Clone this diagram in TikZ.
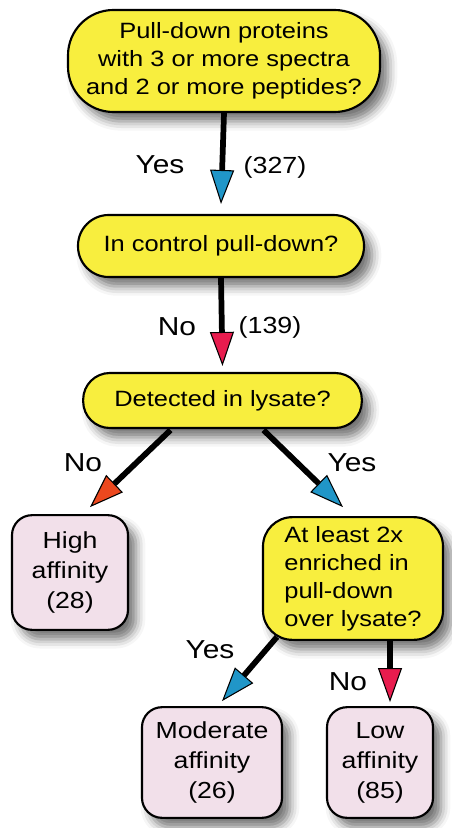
\documentclass[tikz,border=0pt]{standalone}
\usepackage{fontspec}
\setmainfont{Liberation Sans}[FakeStretch=1.15]
\usetikzlibrary{arrows.meta,calc,shadows.blur}
\definecolor{qyellow}{RGB}{248,238,62}
\definecolor{rpink}{RGB}{242,224,234}
\definecolor{tipblue}{RGB}{32,150,200}
\definecolor{tipred}{RGB}{232,28,78}
\definecolor{tiporange}{RGB}{236,72,30}
\tikzset{
  base/.style={draw=black, line width=1.6pt, inner sep=0pt, align=center,
    blur shadow={shadow xshift=6pt, shadow yshift=-7pt, shadow blur radius=7pt, shadow opacity=55}},
  question/.style={base, fill=qyellow, font=\fontsize{16.6}{21}\selectfont},
  result/.style={base, fill=rpink, font=\fontsize{17.4}{22.5}\selectfont, rounded corners=15pt},
  conn/.style={line width=4.3pt, draw=black},
  bluetip/.style={conn, -{Triangle[width=18pt,length=25.5pt,fill=tipblue,line width=0.8pt]}},
  redtip/.style={conn, -{Triangle[width=18pt,length=25.5pt,fill=tipred,line width=0.8pt]}},
  orangetip/.style={conn, -{Triangle[width=18pt,length=25.5pt,fill=tiporange,line width=0.8pt]}},
  answer/.style={font=\fontsize{19.5}{22}\selectfont, inner sep=0pt},
  count/.style={font=\fontsize{17.5}{20}\selectfont, inner sep=0pt}
}
\begin{document}
\begin{tikzpicture}[x=0.75pt,y=-0.75pt]
\useasboundingbox (0,0) rectangle (451,828);
\node[question, minimum width=234pt, minimum height=76.5pt, rounded corners=34pt] (q1) at (224,61)
  {Pull-down proteins\\with 3 or more spectra\\and 2 or more peptides?};
\node[question, minimum width=214.5pt, minimum height=46.5pt, rounded corners=23pt] (q2) at (221,246)
  {In control pull-down?};
\node[question, minimum width=209pt, minimum height=41.25pt, rounded corners=20pt] (q3) at (222.5,400.5)
  {Detected in lysate?};
\node[question, minimum width=135pt, minimum height=92pt, rounded corners=22pt, align=left] (q4) at (353,578.5)
  {At least 2x\\enriched in\\pull-down\\over lysate?};
\node[result, minimum width=87pt, minimum height=86pt] (high) at (70,572.5) {High\\affinity\\(28)};
\node[result, minimum width=105pt, minimum height=83pt] (mod) at (212,762.5) {Moderate\\affinity\\(26)};
\node[result, minimum width=79.5pt, minimum height=83pt] (low) at (380,762.5) {Low\\affinity\\(85)};

\draw[bluetip] (q1.south) -- ($(q2.north)+(0,-10)$);
\draw[redtip] (q2.south) -- ($(q3.north)+(0,-6)$);
\draw[orangetip] ($(q3.south)+(-52,1)$) -- ($(high.north)+(20,-7)$);
\draw[bluetip] ($(q3.south)+(41,1)$) -- ($(q4.north)+(-10,-9)$);
\draw[bluetip] ($(q4.south)+(-76,-4)$) -- ($(mod.north)+(10,-5)$);
\draw[redtip] ($(q4.south)+(37,0)$) -- ($(low.north)+(10,-4)$);

\node[answer] (l1) at (160,165) {Yes};
\node[count] (c1) at (275,167) {(327)};
\node[answer] (l2) at (177,327) {No};
\node[count] (c2) at (270,327) {(139)};
\node[answer] (l3) at (83,463) {No};
\node[answer] (l4) at (352,463) {Yes};
\node[answer] (l5) at (210,650) {Yes};
\node[answer] (l6) at (348,682) {No};
\end{tikzpicture}
\end{document}
